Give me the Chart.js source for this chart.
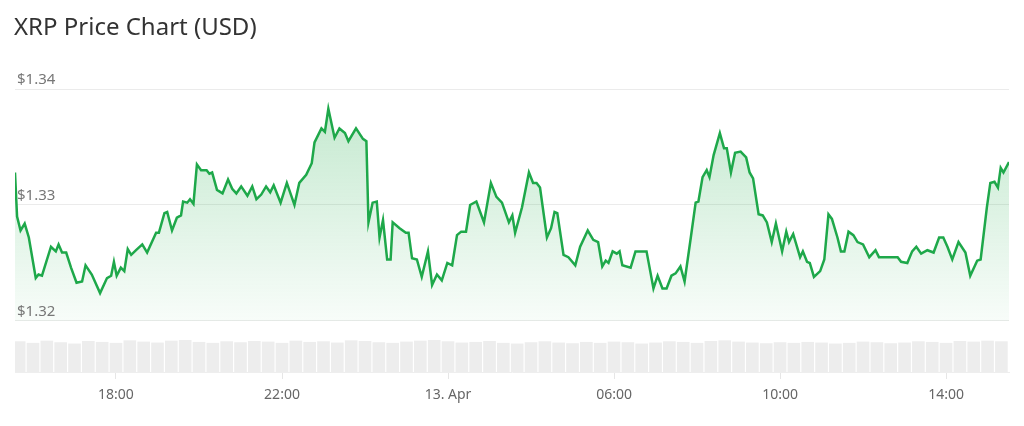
<!DOCTYPE html>
<html>
<head>
<meta charset="utf-8">
<script src="https://cdn.jsdelivr.net/npm/chart.js@4"></script>
<style>
  body { margin: 0; background: #fff; font-family: "Noto Sans", sans-serif; }
  #wrap { position: relative; width: 1024px; height: 426px; }
  #title { position: absolute; left: 14px; top: 9px; font-size: 24px; color: #333; }
  canvas { position: absolute; left: 0; top: 0; }
</style>
</head>
<body>
<div id="wrap">
  <canvas id="chart" width="1024" height="426"></canvas>
  <div id="title">XRP Price Chart (USD)</div>
</div>
<script>
// minutes since 12 Apr 00:00
const times = [934,937,942,948,954,964,968,973,986,993,997,1002,1008,1015,1023,1031,1036,1045,1057,1067,
  1073,1077,1081,1087,1092,1097,1102,1109,1118,1125,1138,1142,1150,1154,1161,1168,1174,1177,1183,1187,
  1192,1197,1203,1211,1215,1219,1226,1234,1242,1248,1254,1261,1270,1277,1283,1290,1297,1303,1308,1318,
  1327,1338,1345,1355,1363,1367,1377,1382,1387,1396,1403,1411,1416,1427,1437,1442,1445,1451,1457,1461,
  1466,1472,1477,1480,1490,1499,1503,1508,1515,1522,1531,1537,1544,1551,1559,1566,1573,1579,1586,1592,
  1601,1612,1622,1630,1638,1648,1653,1657,1667,1677,1683,1688,1693,1703,1709,1714,1718,1727,1734,1744,
  1751,1762,1770,1777,1783,1788,1792,1798,1804,1808,1812,1824,1831,1841,1847,1857,1863,1870,1876,1883,
  1889,1896,1902,1911,1918,1922,1928,1934,1938,1944,1953,1959,1963,1969,1975,1983,1991,1996,2001,2009,
  2015,2021,2028,2034,2043,2049,2053,2059,2069,2073,2079,2083,2089,2098,2104,2110,2115,2123,2128,2133,
  2139,2146,2152,2160,2169,2178,2183,2195,2210,2215,2224,2231,2237,2244,2253,2262,2270,2276,2282,2289,
  2298,2308,2315,2325,2330,2339,2344,2350,2355,2359,2363,2371];

const prices = [1.3328,1.3290,1.3278,1.3284,1.3272,1.3237,1.3240,1.3239,1.3264,1.3260,1.3266,1.3259,1.3259,1.3246,1.3233,1.3234,1.3248,1.3240,1.3224,1.3237,
  1.3239,1.3251,1.3239,1.3246,1.3243,1.3262,1.3257,1.3261,1.3266,1.3259,1.3276,1.3276,1.3293,1.3294,1.3278,1.3289,1.3291,1.3303,1.3302,1.3305,
  1.3301,1.3335,1.3330,1.3330,1.3327,1.3328,1.3313,1.3310,1.3322,1.3314,1.3310,1.3316,1.3308,1.3316,1.3305,1.3309,1.3316,1.3311,1.3317,1.3302,
  1.3319,1.3300,1.3319,1.3326,1.3336,1.3354,1.3366,1.3363,1.3383,1.3358,1.3366,1.3362,1.3355,1.3366,1.3357,1.3355,1.3285,1.3302,1.3303,1.3272,
  1.3287,1.3253,1.3253,1.3285,1.3280,1.3276,1.3276,1.3254,1.3253,1.3238,1.3260,1.3231,1.3240,1.3235,1.3250,1.3248,1.3274,1.3277,1.3277,1.3300,
  1.3303,1.3285,1.3319,1.3307,1.3302,1.3285,1.3291,1.3276,1.3298,1.3328,1.3319,1.3319,1.3315,1.3272,1.3280,1.3294,1.3293,1.3257,1.3255,1.3248,
  1.3264,1.3278,1.3270,1.3268,1.3247,1.3252,1.3250,1.3260,1.3258,1.3260,1.3248,1.3246,1.3260,1.3260,1.3260,1.3228,1.3239,1.3228,1.3228,1.3239,
  1.3241,1.3247,1.3234,1.3272,1.3302,1.3303,1.3324,1.3330,1.3324,1.3343,1.3362,1.3349,1.3349,1.3328,1.3345,1.3346,1.3341,1.3328,1.3323,1.3292,
  1.3291,1.3285,1.3268,1.3284,1.3260,1.3277,1.3268,1.3275,1.3255,1.3260,1.3251,1.3250,1.3238,1.3243,1.3253,1.3292,1.3288,1.3272,1.3260,1.3260,
  1.3277,1.3274,1.3268,1.3266,1.3255,1.3261,1.3255,1.3255,1.3255,1.3251,1.3250,1.3260,1.3264,1.3258,1.3261,1.3259,1.3272,1.3272,1.3264,1.3253,
  1.3268,1.3259,1.3239,1.3252,1.3253,1.3298,1.3319,1.3320,1.3315,1.3332,1.3328,1.3337];

// rough relative volume, one bar per 20 minutes starting at 940
const volumeStart = 940;
const volumeStep = 20;
const volumes = [0.95,0.9,0.97,0.92,0.88,0.96,0.93,0.9,0.98,0.94,0.91,0.97,0.99,0.93,0.9,0.95,0.92,0.96,0.94,0.9,
  0.97,0.93,0.95,0.91,0.98,0.96,0.92,0.9,0.94,0.97,0.99,0.95,0.91,0.93,0.96,0.9,0.88,0.92,0.95,0.91,
  0.89,0.93,0.9,0.94,0.92,0.88,0.91,0.95,0.93,0.9,0.96,0.98,0.94,0.91,0.89,0.92,0.9,0.93,0.91,0.88,
  0.9,0.94,0.92,0.89,0.91,0.95,0.93,0.9,0.96,0.94,0.97,0.95];

const tickValues = [1080, 1320, 1560, 1800, 2040, 2280];
const tickLabels = ['18:00', '22:00', '13. Apr', '06:00', '10:00', '14:00'];
const priceTicks = [1.32, 1.33, 1.34];
const priceLabels = ['$1.32', '$1.33', '$1.34'];

const pricePoints = times.map((t, i) => ({ x: t, y: prices[i] }));
const volumePoints = volumes.map((v, i) => ({ x: volumeStart + i * volumeStep, y: v }));

const priceLabelPlugin = {
  id: 'priceLabels',
  afterDraw(chart) {
    const ctx = chart.ctx;
    const y = chart.scales.y;
    ctx.save();
    ctx.font = '15px "Noto Sans", sans-serif';
    ctx.fillStyle = '#777';
    ctx.textBaseline = 'bottom';
    priceTicks.forEach((v, i) => {
      ctx.fillText(priceLabels[i], 17, y.getPixelForValue(v) - 2);
    });
    ctx.restore();
  }
};

const ctx = document.getElementById('chart').getContext('2d');
const grad = ctx.createLinearGradient(0, 100, 0, 322);
grad.addColorStop(0, 'rgba(40,175,80,0.28)');
grad.addColorStop(1, 'rgba(40,175,80,0.03)');

new Chart(ctx, {
  data: {
    datasets: [{
      type: 'line',
      data: pricePoints,
      borderColor: '#1ea84a',
      borderWidth: 2.5,
      pointRadius: 0,
      tension: 0,
      fill: { value: 1.32 },
      backgroundColor: grad,
      yAxisID: 'y',
      order: 1
    }, {
      type: 'bar',
      data: volumePoints,
      backgroundColor: '#ededed',
      barThickness: 12,
      yAxisID: 'yv',
      order: 2
    }]
  },
  options: {
    responsive: false,
    animation: false,
    layout: { padding: { left: 15, right: 15, top: 89, bottom: 0 } },
    plugins: { legend: { display: false }, tooltip: { enabled: false } },
    scales: {
      x: {
        type: 'linear',
        offset: false,
        min: 934,
        max: 2371,
        afterBuildTicks: (s) => { s.ticks = tickValues.map(v => ({ value: v })); },
        afterFit: (s) => { s.height = 54; },
        ticks: {
          padding: 8,
          color: '#666',
          font: { size: 14, family: '"Noto Sans", sans-serif' },
          callback: (v) => tickLabels[tickValues.indexOf(v)],
          maxRotation: 0,
          autoSkip: false
        },
        grid: { offset: false, drawOnChartArea: false, tickLength: 7, color: '#e6e6e6' },
        border: { color: '#eeeeee' }
      },
      y: {
        min: 1.3156,
        max: 1.34,
        afterBuildTicks: (s) => { s.ticks = priceTicks.map(v => ({ value: v })); },
        afterFit: (s) => { s.width = 0; },
        ticks: { display: false },
        grid: { color: '#ebebeb', drawTicks: false },
        border: { display: false }
      },
      yv: {
        display: false,
        min: 0,
        max: 8.85
      }
    }
  },
  plugins: [priceLabelPlugin]
});
</script>
</body>
</html>
